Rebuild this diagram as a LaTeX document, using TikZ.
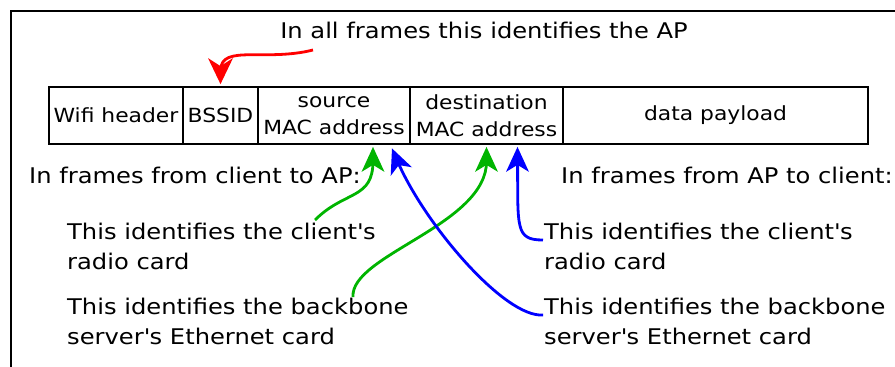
\documentclass[tikz,border=0pt]{standalone}
\usepackage{fontspec}
\setmainfont{DejaVu Sans}[FakeStretch=1.12]

\definecolor{apred}{RGB}{255,0,0}
\definecolor{upgreen}{RGB}{0,180,0}
\definecolor{downblue}{RGB}{0,0,255}

\begin{document}
\begin{tikzpicture}[x=1pt,y=-1pt,
  field/.style={draw,line width=2.8pt,minimum height=57pt,inner sep=0pt,align=center,
    font=\fontsize{19.5}{27}\selectfont},
  note/.style={inner sep=0pt,align=left,anchor=west,font=\fontsize{21.6}{30}\selectfont},
  wire/.style={line width=2.8pt,shorten >=14pt}]
\useasboundingbox (0,0) rectangle (895,367);
\draw [line width=1.8pt] (11,367) -- (11,11) -- (895,11);
\node [field,minimum width=134pt] (wifi) at (116,115.5) {Wifi header};
\node [field,minimum width=75pt] (bssid) at (220.5,115.5) {BSSID};
\node [field,minimum width=152pt] (src) at (334,115.5) {source\\MAC address};
\node [field,minimum width=153pt] (dst) at (486.5,115.5) {destination\\MAC address};
\node [field,minimum width=305pt] (payload) at (715.5,115.5) {data payload};
\node [note,anchor=center] (allframes) at (484,30) {In all frames this identifies the AP};
\node [note] (toap) at (29,175) {In frames from client to AP:};
\node [note] (toclient) at (561,175) {In frames from AP to client:};
\node [note] (lradio) at (67,246) {This identifies the client\textquotesingle s\\radio card};
\node [note] (lserver) at (67,321) {This identifies the backbone\\server\textquotesingle s Ethernet card};
\node [note] (rradio) at (544,246) {This identifies the client\textquotesingle s\\radio card};
\node [note] (rserver) at (544,321) {This identifies the backbone\\server\textquotesingle s Ethernet card};
\coordinate (redstart) at (313,50);
\coordinate (redtip) at ([yshift=1.5pt]bssid.north);
\coordinate (g1start) at (315,220);
\coordinate (g1tip) at ([xshift=39pt,yshift=-1.5pt]src.south);
\coordinate (g2start) at (353,297);
\coordinate (g2tip) at ([yshift=-1.5pt]dst.south);
\coordinate (b1start) at (543,315);
\coordinate (b1tip) at ([xshift=58pt,yshift=-3pt]src.south);
\coordinate (b2start) at (543,240);
\coordinate (b2tip) at ([xshift=31pt,yshift=-1.5pt]dst.south);
\draw [wire,apred] (redstart) .. controls (265,62) and (221,44) .. (redtip);
\fill [apred,shift={(redtip)},rotate=-90] (0,0) -- (-26,12.5) -- (-18,0) -- (-26,-12.5) -- cycle;
\draw [wire,upgreen] (g1start) .. controls (345,190) and (373,200) .. (g1tip);
\fill [upgreen,shift={(g1tip)},rotate=90] (0,0) -- (-25,11.5) -- (-18,0) -- (-25,-11.5) -- cycle;
\draw [wire,upgreen] (g2start) .. controls (350,255) and (487,225) .. (g2tip);
\fill [upgreen,shift={(g2tip)},rotate=90] (0,0) -- (-25,11.5) -- (-18,0) -- (-25,-11.5) -- cycle;
\draw [wire,downblue] (b1start) .. controls (505,318) and (425,225) .. (b1tip);
\fill [downblue,shift={(b1tip)},rotate=112] (0,0) -- (-25,11.5) -- (-18,0) -- (-25,-11.5) -- cycle;
\draw [wire,downblue] (b2start) .. controls (515,240) and (518,228) .. (b2tip);
\fill [downblue,shift={(b2tip)},rotate=90] (0,0) -- (-25,11.5) -- (-18,0) -- (-25,-11.5) -- cycle;
\end{tikzpicture}
\end{document}
